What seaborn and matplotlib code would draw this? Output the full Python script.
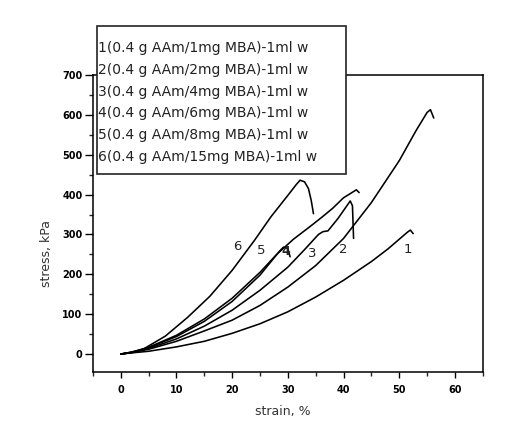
import pandas as pd
import matplotlib.pyplot as plt
import seaborn as sns
from matplotlib.patches import Rectangle
from matplotlib.ticker import MultipleLocator

# curves (strain %, stress kPa)
strain_1 = [0, 2, 5, 10, 15, 20, 25, 30, 35, 40, 45, 48, 50, 51.5, 52.0, 52.5]
stress_1 = [0, 3, 7, 18, 32, 52, 76, 106, 143, 185, 232, 264, 288, 306, 311, 302]

strain_2 = [0, 2, 5, 10, 15, 20, 25, 30, 35, 40, 45, 50, 53, 55, 55.6, 56.2]
stress_2 = [0, 4, 12, 32, 58, 85, 122, 168, 222, 290, 380, 485, 560, 606, 613, 592]

strain_3 = [0, 2, 5, 10, 15, 20, 25, 30, 33, 35.5, 36.3, 37.2, 39, 41.2, 41.6, 41.8]
stress_3 = [0, 4, 14, 38, 70, 110, 160, 218, 262, 300, 307, 309, 340, 384, 372, 290]

strain_4 = [0, 2, 5, 10, 15, 20, 25, 28.5, 29.2, 30.0, 30.4]
stress_4 = [0, 5, 16, 44, 82, 132, 198, 258, 268, 265, 244]

strain_5 = [0, 2, 5, 10, 15, 20, 25, 28, 31, 34, 36, 38, 40, 41.5, 42.3, 42.8]
stress_5 = [0, 5, 17, 47, 88, 140, 205, 250, 288, 320, 342, 365, 392, 405, 412, 405]

strain_6 = [0, 2, 4, 8, 12, 16, 20, 24, 27, 30, 31.5, 32.2, 33.0, 33.7, 34.2, 34.6]
stress_6 = [0, 4, 12, 45, 92, 145, 210, 285, 345, 398, 425, 436, 432, 415, 385, 352]

curve_ids = ["1", "2", "3", "4", "5", "6"]
legend_labels = [
    "1(0.4 g AAm/1mg MBA)-1ml w",
    "2(0.4 g AAm/2mg MBA)-1ml w",
    "3(0.4 g AAm/4mg MBA)-1ml w",
    "4(0.4 g AAm/6mg MBA)-1ml w",
    "5(0.4 g AAm/8mg MBA)-1ml w",
    "6(0.4 g AAm/15mg MBA)-1ml w",
]
# where the curve numbers are written
label_x = [51.6, 40.0, 34.3, 29.6, 25.3, 20.9]
label_y = [261, 263, 251, 258, 259, 269]

strains = [strain_1, strain_2, strain_3, strain_4, strain_5, strain_6]
stresses = [stress_1, stress_2, stress_3, stress_4, stress_5, stress_6]
frames = []
for cid, sx, sy in zip(curve_ids, strains, stresses):
    frames.append(pd.DataFrame({"strain": sx, "stress": sy, "curve": cid}))
df = pd.concat(frames, ignore_index=True)

sns.set_theme(style="ticks")
plt.rcParams["font.family"] = ["DejaVu Sans"]

fig = plt.figure(figsize=(5.05, 4.21), dpi=100)
ax = fig.add_axes([0.184, 0.1164, 0.772, 0.7055])

sns.lineplot(data=df, x="strain", y="stress", units="curve", estimator=None,
             sort=False, color="black", linewidth=1.15, ax=ax)

for cid, lx, ly in zip(curve_ids, label_x, label_y):
    if cid == "4":
        continue
    ax.text(lx, ly, cid, fontsize=9.5, ha="center", va="center", color="#222222")
ax.text(label_x[3], label_y[3], "4", fontsize=9, ha="center", va="center",
        color="#222222", fontweight="bold")

ax.set_xlim(-5, 65)
ax.set_ylim(-45, 700)
ax.xaxis.set_major_locator(MultipleLocator(10))
ax.xaxis.set_minor_locator(MultipleLocator(5))
ax.yaxis.set_major_locator(MultipleLocator(100))
ax.yaxis.set_minor_locator(MultipleLocator(50))
ax.tick_params(axis="x", which="major", direction="out", length=4.5, width=1, pad=5,
               labelsize=7, colors="black")
ax.tick_params(axis="x", which="minor", direction="out", length=3, width=1)
ax.tick_params(axis="y", which="major", direction="out", length=5.5, width=1, pad=2,
               labelsize=7, colors="black")
ax.tick_params(axis="y", which="minor", direction="out", length=3, width=1)
for lab in ax.get_xticklabels() + ax.get_yticklabels():
    lab.set_fontweight("bold")
for sp in ax.spines.values():
    sp.set_visible(True)
    sp.set_color("black")
    sp.set_linewidth(1.1)

ax.set_xlabel("strain, %", fontsize=9, color="#333333")
ax.set_ylabel("stress, kPa", fontsize=9, color="#333333")
ax.xaxis.set_label_coords(0.487, -0.111)
ax.yaxis.set_label_coords(-0.103, 0.40)

# legend box sits over the top of the axes
fig.patches.append(Rectangle((0.192, 0.5867), 0.493, 0.3515, transform=fig.transFigure,
                             facecolor="white", edgecolor="#222222", linewidth=1.2,
                             zorder=2))
line_y = [47.7, 70.0, 91.7, 113.0, 135.0, 156.7]
for txt, py in zip(legend_labels, line_y):
    fig.text(0.194, 1 - py / 421, txt, fontsize=10, ha="left", va="center",
             color="#222222", zorder=3)

fig.savefig("out.png", dpi=100)
